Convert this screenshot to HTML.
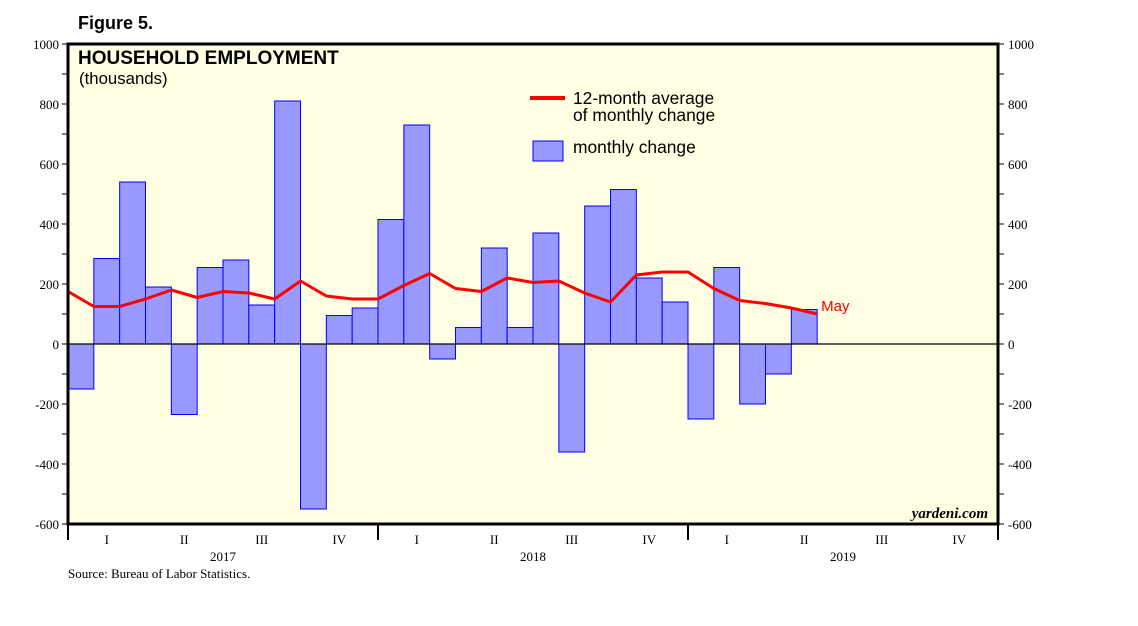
<!DOCTYPE html>
<html><head><meta charset="utf-8"><style>
body{margin:0;background:#fff;width:1138px;height:621px;overflow:hidden}
svg text{font-family:"Liberation Serif",serif}
</style></head><body>
<svg id="chart" width="1138" height="621">
<text x="78" y="29" font-weight="bold" font-size="18" style="font-family:'Liberation Sans',sans-serif">Figure 5.</text>
<rect x="68" y="44" width="930" height="480" fill="#ffffe3"/>
<g id="bars"></g>
<line x1="68" x2="998" id="zero" stroke="#000" stroke-width="1.2"/>
<polyline id="avgline" fill="none" stroke="#ff0000" stroke-width="3" stroke-linejoin="round"/>
<text id="maylbl" fill="#ff0000" font-size="15" style="font-family:'Liberation Sans',sans-serif">May</text>
<rect x="68" y="44" width="930" height="480" fill="none" stroke="#000" stroke-width="3"/>
<g id="yaxes"></g>
<g id="xaxis"></g>
<text x="78" y="64" font-weight="bold" font-size="19" style="font-family:'Liberation Sans',sans-serif">HOUSEHOLD EMPLOYMENT</text>
<text x="79" y="84" font-size="16.8" style="font-family:'Liberation Sans',sans-serif">(thousands)</text>
<line x1="530" x2="565" y1="98" y2="98" stroke="#ff0000" stroke-width="4"/>
<text x="573" y="104" font-size="17.4" style="font-family:'Liberation Sans',sans-serif">12-month average</text>
<text x="573" y="121" font-size="17.4" style="font-family:'Liberation Sans',sans-serif">of monthly change</text>
<rect x="533" y="141" width="30" height="20" fill="#9999ff" stroke="#0000ff"/>
<text x="573" y="153" font-size="17.4" style="font-family:'Liberation Sans',sans-serif">monthly change</text>
<text x="988" y="518" text-anchor="end" font-style="italic" font-weight="bold" font-size="15">yardeni.com</text>
<text x="68" y="578" font-size="13">Source: Bureau of Labor Statistics.</text>
</svg>
<script>
const monthlyChange=[-150,285,540,190,-235,255,280,130,810,-550,95,120,415,730,-50,55,320,55,370,-360,460,515,220,140,-250,255,-200,-100,115];
const avgChange=[175,125,125,150,180,155,175,170,150,210,160,150,150,195,235,185,175,220,205,210,170,140,230,240,240,185,145,135,120,100];
const yTicks=[1000,800,600,400,200,0,-200,-400,-600];
const quarterLabels=["I","II","III","IV"];
const yearLabels=["2017","2018","2019"];
const NS="http://www.w3.org/2000/svg";
const X0=68,MW=930/36,YT=44,YB=524,YMAX=1000,YMIN=-600;
const y=v=>YT+(YMAX-v)/(YMAX-YMIN)*(YB-YT);
const x=i=>X0+i*MW;
function mk(t,a,p){const e=document.createElementNS(NS,t);for(const k in a)e.setAttribute(k,a[k]);p.appendChild(e);return e;}
const bars=document.getElementById('bars');
monthlyChange.forEach((v,i)=>{
 const r=mk('rect',{x:x(i),y:Math.min(y(v),y(0)),width:MW,height:Math.abs(y(v)-y(0)),fill:'#9999ff',stroke:'#0000ff','stroke-width':1},bars);
 
 
});
const z=document.getElementById('zero');z.setAttribute('y1',y(0));z.setAttribute('y2',y(0));
document.getElementById('avgline').setAttribute('points',avgChange.map((v,i)=>x(i)+','+y(v)).join(' '));
const ml=document.getElementById('maylbl');const li=avgChange.length-1;
ml.setAttribute('x',x(li)+4);ml.setAttribute('y',y(avgChange[li])-3);
const ya=document.getElementById('yaxes');
for(let v=YMIN;v<=YMAX;v+=100){
 mk('line',{x1:X0-6,x2:X0,y1:y(v),y2:y(v),stroke:'#000'},ya);
 mk('line',{x1:998,x2:1004,y1:y(v),y2:y(v),stroke:'#000'},ya);
}
yTicks.forEach(v=>{
 const a=mk('text',{x:X0-9,y:y(v)+5,'text-anchor':'end','font-size':13},ya);a.textContent=v;
 
 
 const b=mk('text',{x:1008,y:y(v)+5,'font-size':13},ya);b.textContent=v;
 
 
});
const xa=document.getElementById('xaxis');
for(let yr=0;yr<=3;yr++){mk('line',{x1:x(yr*12),x2:x(yr*12),y1:YB,y2:YB+16,stroke:'#000','stroke-width':2},xa);}
for(let q=0;q<12;q++){
 const t=mk('text',{x:x(q*3+1.5),y:544,'text-anchor':'middle','font-size':13},xa);t.textContent=quarterLabels[q%4];
 
 
}
yearLabels.forEach((l,i)=>{
 const t=mk('text',{x:x(i*12+6),y:561,'text-anchor':'middle','font-size':13},xa);t.textContent=l;
 
 
});
</script>
</body></html>
